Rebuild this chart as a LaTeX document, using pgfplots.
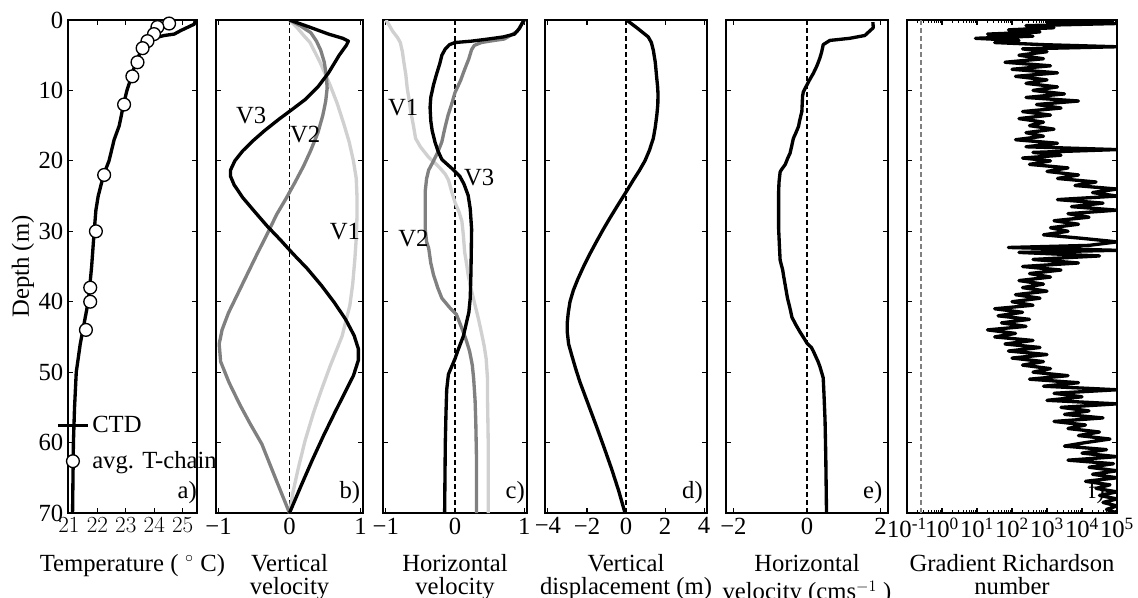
\documentclass[border=0pt]{standalone}
\usepackage{fontspec}
\setmainfont{Liberation Serif}
\usepackage{pgfplots}
\pgfplotsset{compat=1.18}
\definecolor{lgray}{RGB}{208,208,208}
\definecolor{mgray}{RGB}{128,128,128}
\newcommand{\lfont}{\fontsize{18.5}{20.5}\selectfont}
\newcommand{\xlfont}{\fontsize{18.5}{17.5}\selectfont}
\tikzset{
  plab/.style={anchor=south east, inner sep=0pt, font=\lfont},
  vlab/.style={inner sep=0pt, font=\lfont},
}
\pgfplotsset{
  prof/.style={
    scale only axis, height=369.75pt, anchor=north west,
    y dir=reverse, ymin=0, ymax=70, ytick={0,10,...,70}, yticklabels={},
    tick align=inside, xtick pos=both, ytick pos=both,
    major tick length=4pt, minor tick length=2.5pt,
    axis line style={line width=0.8pt},
    every tick/.style={black, line width=0.8pt},
    tick label style={font=\lfont},
    every axis x label/.style={at={(axis description cs:0.5,0)}, anchor=north, yshift=-30.5pt,
      align=center, inner sep=0pt, font=\xlfont},
    every axis y label/.style={at={(axis description cs:-0.349,0.5)}, anchor=center, rotate=90, font=\lfont},
  },
  curve/.style={line width=2.5pt, line join=round},
  zline/.style={black, line width=1.2pt, dash pattern=on 3.5pt off 2.5pt},
  ctdleg/.style={legend image code/.code={\draw[##1] (0pt,0pt) -- (22.5pt,0pt);}},
  cirleg/.style={legend image code/.code={\draw[##1] plot coordinates {(11.25pt,0pt)};}},
}
\begin{document}
\begin{tikzpicture}
\useasboundingbox (0,0) rectangle (853.5pt,-448.5pt);
% ---------------- a
\begin{axis}[prof, at={(51pt,-15pt)}, width=96.75pt,
  xmin=20.97, xmax=25.5, xtick={21,22,23,24,25},
  yticklabels={0,10,20,30,40,50,60,70},
  xlabel={Temperature (\hspace{5pt}$^\circ$\hspace{5pt}C)}, ylabel={Depth (m)},
  legend style={at={(axis description cs:0,0)}, anchor=south west, xshift=-9pt, yshift=29.5pt,
    draw=none, fill=none, inner sep=0pt, row sep=8.5pt, font=\lfont},
  legend cell align=left]
\addplot[curve, black, ctdleg] table {
25.45 0.0
25.40 0.6
24.93 1.5
24.70 2.0
24.35 2.2
24.05 2.5
23.82 3.0
23.58 4.0
23.35 6.0
23.20 8.0
23.04 10.0
22.92 12.0
22.77 15.0
22.59 17.0
22.41 20.0
22.22 22.0
22.03 25.0
21.95 27.0
21.89 30.0
21.80 35.0
21.73 38.0
21.68 40.0
21.54 43.0
21.40 46.0
21.33 48.0
21.26 50.0
21.20 55.0
21.16 60.0
21.13 70.0
};
\addlegendentry{CTD}
\addplot[only marks, mark=*, mark size=4.8pt, mark options={fill=white, draw=black, line width=1pt}, cirleg] table {
24.52 0.5
24.11 1.0
23.99 2.0
23.76 3.0
23.59 4.0
23.41 6.0
23.23 8.0
22.94 12.0
22.24 22.0
21.95 30.0
21.75 38.0
21.75 40.0
21.60 44.0
};
\addlegendentry{avg. T-chain}
\node[plab, yshift=7pt, xshift=0pt] at (rel axis cs:1,0) {a)};
\end{axis}
% ---------------- b
\begin{axis}[prof, at={(162pt,-15pt)}, width=110.25pt,
  xmin=-1.035, xmax=1.035, xtick={-1,0,1}, xticklabels={−1,0,1},
  xlabel={Vertical\\velocity}]
\addplot[zline] coordinates {(0,0) (0,70)};
\addplot[curve, lgray] coordinates {
(0,0) (0.1,1) (0.2,2.2) (0.29,3.2) (0.43,6) (0.57,9.2) (0.67,11.8) (0.76,14.6) (0.84,17.3) (0.90,20) (0.94,22.5) (0.95,25) (0.95,28) (0.94,31) (0.92,34) (0.89,37.5) (0.85,40.5) (0.74,44.9) (0.57,49.2) (0.45,52.5) (0.34,55.7) (0.22,59.7) (0.12,63.8) (0.05,67) (0,70)};
\addplot[curve, mgray] coordinates {
(0,0) (0.15,0.8) (0.30,1.8) (0.38,3) (0.44,4.3) (0.49,6) (0.52,8) (0.53,9.7) (0.51,11.5) (0.47,13.5) (0.40,16) (0.30,18.5) (0.20,20.7) (0.08,23) (-0.04,25.2) (-0.18,27.6) (-0.32,30.5) (-0.46,33.3) (-0.6,36.2) (-0.73,38.9) (-0.86,41.6) (-0.95,44) (-0.99,46) (-0.97,48.5) (-0.85,51.5) (-0.70,54.6) (-0.55,57.4) (-0.39,60.2) (-0.2,65) (0,70)};
\addplot[curve, black] coordinates {
(0,0) (0.28,1.0) (0.55,2.0) (0.75,2.6) (0.83,3.0) (0.80,3.6) (0.70,5) (0.55,7.5) (0.40,9.5) (0.22,11.3) (0.05,12.6) (-0.15,14.1) (-0.35,15.7) (-0.52,17.2) (-0.66,18.6) (-0.77,20) (-0.83,21.3) (-0.83,22.2) (-0.78,23.4) (-0.66,25.2) (-0.5,27.1) (-0.32,29.2) (-0.13,31.2) (0.05,33.2) (0.25,35.3) (0.45,37.7) (0.63,40.1) (0.79,42.5) (0.91,44.8) (0.97,46.7) (0.97,48.3) (0.90,50.5) (0.79,52.7) (0.64,55.7) (0.48,59.0) (0.32,62.5) (0.16,66.2) (0,70)};
\node[vlab] at (axis cs:-0.54,13.5) {V3};
\node[vlab] at (axis cs:0.22,16.2) {V2};
\node[vlab] at (axis cs:0.78,30) {V1};
\node[plab, yshift=7pt, xshift=-2pt] at (rel axis cs:1,0) {b)};
\end{axis}
% ---------------- c
\begin{axis}[prof, at={(287.25pt,-15pt)}, width=108pt,
  xmin=-1.04, xmax=1.04, xtick={-1,0,1}, xticklabels={−1,0,1},
  xlabel={Horizontal\\velocity}]
\addplot[zline] coordinates {(0,0) (0,70)};
\addplot[curve, lgray] coordinates {
(-1.0,0) (-0.97,0.4) (-0.9,1.6) (-0.83,2.5) (-0.79,3.2) (-0.76,4.5) (-0.74,5.9) (-0.71,7.8) (-0.69,9.7) (-0.66,11.5) (-0.64,13) (-0.6,15) (-0.57,16.8) (-0.5,18) (-0.38,19.5) (-0.29,20.3) (-0.21,21.1) (-0.14,21.9) (-0.095,22.7) (-0.05,24.3) (0,25.9) (0.06,27.3) (0.1,28.6) (0.12,30.5) (0.14,33) (0.17,34.8) (0.19,36.2) (0.24,38.5) (0.29,40.5) (0.34,42.5) (0.38,44.3) (0.42,46.2) (0.45,48.1) (0.47,51) (0.47,54) (0.48,60) (0.48,70)};
\addplot[curve, mgray] coordinates {
(1.0,0) (0.95,0.8) (0.9,1.6) (0.8,2.2) (0.71,2.7) (0.5,3.0) (0.38,3.2) (0.28,3.6) (0.24,4.2) (0.2,5.5) (0.14,7.0) (0.08,8.6) (0,10.3) (-0.05,12) (-0.1,13.5) (-0.15,15.5) (-0.19,17.3) (-0.25,18.8) (-0.31,20) (-0.38,21.3) (-0.41,22.5) (-0.43,24.3) (-0.43,27) (-0.43,29.7) (-0.41,31.5) (-0.38,32.4) (-0.35,34.5) (-0.31,36.2) (-0.25,38) (-0.19,39.5) (-0.08,40.8) (0.02,41.8) (0.1,43.8) (0.16,45.4) (0.21,47) (0.25,49) (0.27,51) (0.29,54) (0.30,57) (0.31,62) (0.31,70)};
\addplot[curve, black] coordinates {
(1.0,0) (0.98,0.3) (0.93,1.2) (0.86,2.0) (0.7,2.4) (0.48,2.7) (0.24,3.0) (0.0,3.2) (-0.08,3.5) (-0.14,4.1) (-0.19,5.0) (-0.22,6.2) (-0.27,7.8) (-0.31,9.2) (-0.35,11) (-0.36,12.4) (-0.35,14.3) (-0.33,15.7) (-0.29,17.3) (-0.25,18.5) (-0.19,19.8) (-0.1,20.6) (-0.02,21.3) (0.07,22.2) (0.13,23.3) (0.19,24.9) (0.22,26.8) (0.24,29.7) (0.235,33) (0.23,36) (0.22,39.5) (0.2,41.5) (0.12,44.9) (0.05,46.7) (0,48.1) (-0.095,50.3) (-0.12,52.5) (-0.13,55.7) (-0.14,60) (-0.15,70)};
\node[vlab] at (axis cs:-0.75,12.4) {V1};
\node[vlab] at (axis cs:0.35,22.4) {V3};
\node[vlab] at (axis cs:-0.6,31) {V2};
\node[plab, yshift=7pt, xshift=-1.5pt] at (rel axis cs:1,0) {c)};
\end{axis}
% ---------------- d
\begin{axis}[prof, at={(408.75pt,-15pt)}, width=121.5pt,
  xmin=-4.15, xmax=4.15, xtick={-4,-2,0,2,4}, xticklabels={−4,−2,0,2,4},
  xlabel={Vertical\\displacement (m)}]
\addplot[zline] coordinates {(0,0) (0,70)};
\addplot[curve, black] coordinates {
(0.03,0) (0.6,1.2) (1.14,2.4) (1.3,3.2) (1.4,4.3) (1.5,6) (1.57,8.1) (1.62,9.5) (1.64,10.5) (1.63,12) (1.58,13.5) (1.5,15.2) (1.4,16.8) (1.2,18.5) (0.97,20) (0.68,21.4) (0.38,22.7) (0.03,24.3) (-0.4,26.2) (-0.82,28.1) (-1.16,29.7) (-1.5,31.4) (-1.85,33.2) (-2.19,35.1) (-2.47,36.8) (-2.7,38.4) (-2.87,40) (-2.96,41.6) (-3.01,43) (-3.01,44.3) (-2.94,46) (-2.78,47.6) (-2.58,49.5) (-2.36,51.4) (-1.93,54.6) (-1.5,57.8) (-1.11,60.8) (-0.73,63.8) (-0.38,66.8) (-0.05,70)};
\node[plab, yshift=7pt, xshift=-3pt] at (rel axis cs:1,0) {d)};
\end{axis}
% ---------------- e
\begin{axis}[prof, at={(544.5pt,-15pt)}, width=121.5pt,
  xmin=-2.2, xmax=2.2, xtick={-2,0,2}, xticklabels={−2,0,2},
  xlabel={Horizontal\\[4pt]velocity (cms$^{-1}$ )}]
\addplot[zline] coordinates {(0,0) (0,70)};
\addplot[curve, black] coordinates {
(1.79,0.3) (1.8,1.1) (1.57,2.2) (1.16,2.6) (0.62,2.9) (0.44,3.5) (0.40,4.5) (0.35,5.4) (0.27,6.5) (0.17,7.6) (0.08,8.4) (0,9.2) (-0.1,10.2) (-0.12,10.8) (-0.14,13) (-0.2,14.3) (-0.23,15.1) (-0.3,16) (-0.37,16.8) (-0.42,18) (-0.46,18.9) (-0.53,19.7) (-0.59,20.5) (-0.7,21.3) (-0.73,21.6) (-0.76,23) (-0.77,24.3) (-0.77,29.7) (-0.75,32) (-0.73,34.1) (-0.66,35.5) (-0.64,36.2) (-0.58,38) (-0.53,39.5) (-0.45,41.2) (-0.41,42.2) (-0.3,43.3) (-0.19,44.3) (-0.08,45.2) (0,45.9) (0.12,46.5) (0.17,47) (0.3,48.5) (0.35,49.2) (0.44,50.8) (0.46,53) (0.49,56.8) (0.51,62) (0.53,70)};
\node[plab, yshift=7pt, xshift=-4pt] at (rel axis cs:1,0) {e)};
\end{axis}
% ---------------- f
\begin{axis}[prof, at={(680.25pt,-15pt)}, width=157.5pt,
  xmode=log, xmin=0.1, xmax=100000,
  xtick={0.1,1,10,100,1000,10000,100000},
  xticklabels={10\textsuperscript{-1},10\textsuperscript{0},10\textsuperscript{1},10\textsuperscript{2},10\textsuperscript{3},10\textsuperscript{4},10\textsuperscript{5}},
  xlabel={Gradient Richardson\\number}]
\addplot[mgray, line width=1.2pt, dash pattern=on 3.5pt off 2.5pt] coordinates {(0.25,0) (0.25,70)};
\addplot[curve, black] table {
79433 0.0
1000 0.3
100000 0.5
251 0.8
1585 1.1
79 1.4
631 1.7
20 2.0
398 2.3
9 2.6
158 2.9
32 3.2
794 3.5
100000 3.8
200 4.1
1000 4.5
158 5.0
794 5.5
63 6.0
1259 6.5
100 7.0
1995 7.5
126 8.0
1000 8.5
251 9.0
1995 9.5
398 10.0
3162 10.5
251 11.0
7943 11.5
501 12.0
2512 12.5
200 13.0
1259 13.5
158 14.0
794 14.5
316 15.0
1585 15.5
251 16.0
794 16.5
126 17.0
1995 17.5
251 18.0
100000 18.4
398 18.8
2512 19.2
200 19.6
1259 20.0
316 20.5
3981 21.0
1000 21.5
7943 22.0
1995 22.5
25119 23.0
6310 23.5
100000 24.0
19953 24.5
100000 25.0
1995 25.5
39811 26.0
5012 26.5
100000 27.0
3981 27.5
15849 28.0
1585 28.5
7943 29.0
1259 29.5
3981 30.0
794 30.5
10000 31.0
100000 31.5
15849 32.0
79 32.3
100000 32.7
158 33.0
31623 33.5
398 34.0
7943 34.5
200 35.0
2512 35.5
316 36.0
1259 36.5
158 37.0
794 37.5
200 38.0
1000 38.5
126 39.0
631 39.5
100 40.0
398 40.5
32 41.0
200 41.5
40 42.0
316 42.5
50 43.0
251 43.5
20 44.0
126 44.5
32 45.0
398 45.5
63 46.0
631 46.5
79 47.0
1000 47.5
100 48.0
794 48.5
200 49.0
1259 49.5
398 50.0
3981 50.5
316 51.0
7943 51.5
794 52.0
100000 52.5
1585 53.0
10000 53.5
1000 54.0
100000 54.5
2512 55.0
15849 55.5
3162 56.0
39811 56.5
1585 57.0
12589 57.5
3981 58.0
31623 58.5
7943 59.0
63096 59.5
12589 60.0
3162 60.5
50119 61.0
10000 61.5
100000 62.0
3981 62.5
79433 63.0
15849 63.5
100000 64.0
19953 64.5
100000 65.0
12589 65.5
63096 66.0
25119 66.5
100000 67.0
31623 67.5
100000 68.0
39811 68.5
100000 69.0
50119 69.5
100000 70.0
};
\node[plab, yshift=7pt, xshift=-9pt] at (rel axis cs:1,0) {f)};
\end{axis}
\end{tikzpicture}
\end{document}
